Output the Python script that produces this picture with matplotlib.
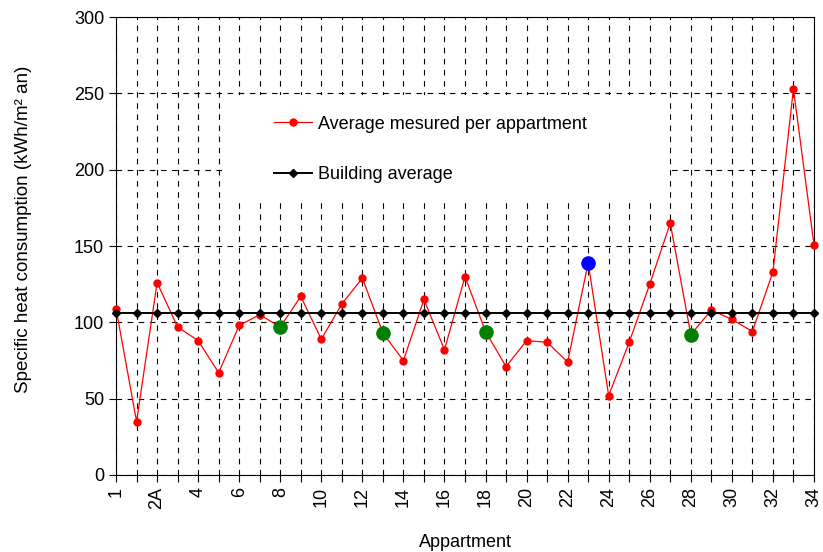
import matplotlib
matplotlib.use('Agg')
from matplotlib import pyplot as plt
from matplotlib.patches import Rectangle

plt.rcParams['font.family'] = ['Liberation Sans', 'DejaVu Sans']

apartments = ['1', '2', '2A', '3', '4', '5', '6', '7', '8', '9', '10', '11',
              '12', '13', '14', '15', '16', '17', '18', '19', '20', '21', '22',
              '23', '24', '25', '26', '27', '28', '29', '30', '31', '32', '33', '34']
measured = [109, 35, 126, 97, 88, 67, 98, 105, 97, 117, 89, 112,
            129, 93, 75, 115, 82, 130, 94, 71, 88, 87, 74,
            139, 52, 87, 125, 165, 92, 108, 102, 94, 133, 253, 151]
building_avg = [106, 106, 106, 106, 106, 106, 106, 106, 106, 106, 106, 106,
                106, 106, 106, 106, 106, 106, 106, 106, 106, 106, 106,
                106, 106, 106, 106, 106, 106, 106, 106, 106, 106, 106, 106]
green_apts = ['8', '13', '18', '28']
blue_apts = ['23']
tick_labels = ['1', '', '2A', '', '4', '', '6', '', '8', '', '10', '', '12', '',
               '14', '', '16', '', '18', '', '20', '', '22', '', '24', '', '26', '',
               '28', '', '30', '', '32', '', '34']

x = list(range(len(apartments)))
green_x = [apartments.index(a) for a in green_apts]
green_y = [measured[i] for i in green_x]
blue_x = [apartments.index(a) for a in blue_apts]
blue_y = [measured[i] for i in blue_x]

fig = plt.figure(figsize=(8.23, 5.52), dpi=100)
ax = fig.add_axes([0.141, 0.1395, 0.848, 0.8295])

ax.plot(x, measured, color='red', lw=0.9, marker='o', ms=5,
        label='Average mesured per appartment', zorder=3, clip_on=False)
ax.plot(x, building_avg, color='black', lw=1.4, marker='D', ms=4.5,
        label='Building average', zorder=3, clip_on=False)
ax.plot(green_x, green_y, 'o', color='green', ms=9.5, zorder=4)
ax.plot(blue_x, blue_y, 'o', color='blue', ms=9.5, zorder=4)

ax.set_xlim(0, 34)
ax.set_ylim(0, 300)
ax.set_yticks([0, 50, 100, 150, 200, 250, 300])
ax.set_xticks(x)
ax.set_xticklabels(tick_labels, rotation=90)
ax.tick_params(axis='both', direction='out', labelsize=13, length=5)

ax.set_axisbelow(True)
ax.grid(True, color='black', lw=0.8, linestyle=(0, (5, 5)))

# white area behind the legend hides the grid
ax.add_patch(Rectangle((0.159, 0.600), 0.635, 0.230, transform=ax.transAxes,
                       facecolor='white', edgecolor='none', zorder=1))

ax.legend(loc='upper left', bbox_to_anchor=(0.226, 0.785), frameon=False,
          fontsize=13, handlelength=2.1, handletextpad=0.35, labelspacing=1.85,
          borderpad=0, borderaxespad=0)

ax.set_xlabel('Appartment', fontsize=13, labelpad=18)
ax.set_ylabel('Specific heat consumption (kWh/m² an)', fontsize=13.5)
ax.yaxis.set_label_coords(-0.120, 0.537)

fig.savefig('out.png', dpi=100)
